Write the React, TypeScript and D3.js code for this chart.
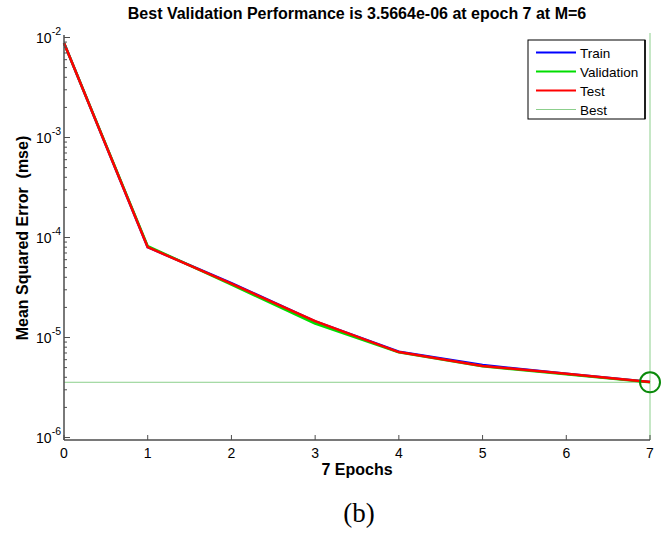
import React from "react";
import * as d3 from "d3";

const epochs = [0, 1, 2, 3, 4, 5, 6, 7];
const trainMse = [8.8e-3, 8.0e-5, 3.5e-5, 1.45e-5, 7.2e-6, 5.3e-6, 4.35e-6, 3.6e-6];
const validationMse = [8.8e-3, 8.2e-5, 3.38e-5, 1.38e-5, 7.1e-6, 5.15e-6, 4.3e-6, 3.5664e-6];
const testMse = [8.8e-3, 8.0e-5, 3.45e-5, 1.46e-5, 7.15e-6, 5.2e-6, 4.33e-6, 3.58e-6];
const bestEpoch = 7;
const bestValue = 3.5664e-6;
const yDecades = [-2, -3, -4, -5, -6];
const xTickLabels = ["0", "1", "2", "3", "4", "5", "6", "7"];
const legendLabels = ["Train", "Validation", "Test", "Best"];

export default function App() {
  const W = 669, H = 534;
  const x = d3.scaleLinear().domain([0, 7]).range([64, 650]);
  const y = d3.scaleLog().domain([1e-6, 1e-2]).range([437.5, 37.5]);
  const axisTop = 35, axisBottom = 440;
  const line = d3.line<number>().x((_, i) => x(epochs[i])).y((d) => y(d));
  const axisColor = "#4d4d4d";
  const font = "'Liberation Sans', Arial, sans-serif";

  const minorTicks: number[] = [];
  for (let e = -6; e < -2; e++) {
    for (let m = 2; m <= 9; m++) minorTicks.push(m * Math.pow(10, e));
  }

  const series = [
    { data: trainMse, color: "#0000ff" },
    { data: validationMse, color: "#00dd00" },
    { data: testMse, color: "#ff0000" },
  ];
  const legendColors = ["#0000ff", "#00dd00", "#ff0000", "#8ccf8c"];

  return (
    <svg width={W} height={H} style={{ position: "absolute", left: 0, top: 0, background: "#fff" }}>
      <rect width={W} height={H} fill="#fff" />
      {/* title */}
      <text x={357} y={19} textAnchor="middle" fontFamily={font} fontWeight="bold" fontSize={16}>
        Best Validation Performance is 3.5664e-06 at epoch 7 at M=6
      </text>

      {/* best lines */}
      <line x1={64} x2={650} y1={y(bestValue)} y2={y(bestValue)} stroke="#8ccf8c" strokeWidth={1} />
      <line x1={x(bestEpoch)} x2={x(bestEpoch)} y1={33} y2={axisBottom} stroke="#8ccf8c" strokeWidth={1} />

      {/* series */}
      {series.map((s, i) => (
        <path key={i} d={line(s.data) || ""} fill="none" stroke={s.color} strokeWidth={2.5} strokeLinejoin="round" />
      ))}

      {/* best circle */}
      <circle cx={x(bestEpoch)} cy={y(bestValue)} r={10} fill="none" stroke="#0a8a0a" strokeWidth={2} />

      {/* axes */}
      <line x1={64} x2={64} y1={axisTop} y2={axisBottom} stroke={axisColor} strokeWidth={1.5} />
      <line x1={64} x2={650} y1={axisBottom} y2={axisBottom} stroke={axisColor} strokeWidth={1.5} />

      {/* y ticks */}
      {yDecades.map((e) => (
        <g key={e}>
          <line x1={64} x2={70} y1={y(Math.pow(10, e))} y2={y(Math.pow(10, e))} stroke={axisColor} strokeWidth={1} />
          <text x={61} y={y(Math.pow(10, e)) + 5.5} textAnchor="end" fontFamily={font} fontSize={14}>
            <tspan>10</tspan>
            <tspan dy={-8} fontSize={10.5}>{String(e)}</tspan>
          </text>
        </g>
      ))}
      {minorTicks.map((v, i) => (
        <line key={i} x1={64} x2={67} y1={y(v)} y2={y(v)} stroke={axisColor} strokeWidth={1} />
      ))}

      {/* x ticks */}
      {epochs.map((e, i) => (
        <g key={e}>
          <line x1={x(e)} x2={x(e)} y1={axisBottom} y2={axisBottom - 5} stroke={axisColor} strokeWidth={1} />
          <text x={x(e)} y={458} textAnchor="middle" fontFamily={font} fontSize={14}>
            {xTickLabels[i]}
          </text>
        </g>
      ))}

      {/* axis labels */}
      <text x={357} y={475} textAnchor="middle" fontFamily={font} fontWeight="bold" fontSize={16}>
        7 Epochs
      </text>
      <text
        transform={`translate(28, 238) rotate(-90)`}
        textAnchor="middle"
        fontFamily={font}
        fontWeight="bold"
        fontSize={16}
        xmlSpace="preserve"
      >
        Mean Squared Error  (mse)
      </text>

      {/* legend */}
      <rect x={528} y={40} width={117} height={79} fill="#fff" stroke="#000" strokeWidth={1} />
      <line x1={645} x2={645} y1={40} y2={119} stroke="#000" strokeWidth={1.5} />
      {legendLabels.map((lab, i) => {
        const ly = 52.5 + i * 19;
        return (
          <g key={lab}>
            <line x1={536} x2={576} y1={ly} y2={ly} stroke={legendColors[i]} strokeWidth={i < 3 ? 2 : 1} />
            <text x={580} y={ly + 5} fontFamily={font} fontSize={13.5}>
              {lab}
            </text>
          </g>
        );
      })}

      {/* caption */}
      <text x={359} y={522} textAnchor="middle" fontFamily="'Liberation Serif', 'Times New Roman', serif" fontSize={27}>
        (b)
      </text>
    </svg>
  );
}
